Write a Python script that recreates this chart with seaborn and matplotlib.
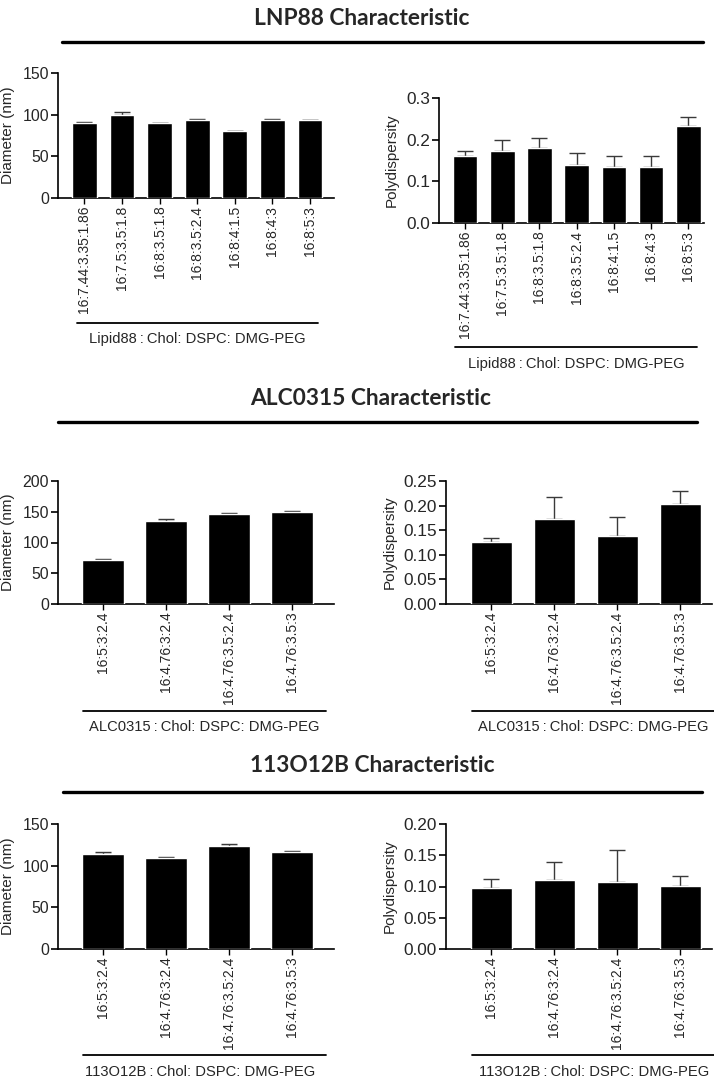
import numpy as np
import pandas as pd
import matplotlib
matplotlib.use("Agg")
import matplotlib.pyplot as plt
from matplotlib.lines import Line2D
from matplotlib.ticker import FormatStrFormatter
import seaborn as sns

# ---- data -------------------------------------------------------------
lnp88_labels = ["16:7.44:3.35:1.86", "16:7.5:3.5:1.8", "16:8:3.5:1.8",
                "16:8:3.5:2.4", "16:8:4:1.5", "16:8:4:3", "16:8:5:3"]
lnp88_diam = [90.5, 99.8, 90.0, 93.3, 80.0, 93.4, 93.4]
lnp88_diam_err = [0.8, 3.0, 0.6, 1.2, 0.6, 1.0, 0.6]
lnp88_pdi = [0.160, 0.174, 0.179, 0.140, 0.135, 0.135, 0.233]
lnp88_pdi_err = [0.012, 0.025, 0.024, 0.028, 0.025, 0.027, 0.021]

alc_labels = ["16:5:3:2.4", "16:4.76:3:2.4", "16:4.76:3.5:2.4", "16:4.76:3.5:3"]
alc_diam = [71.5, 134.5, 146.5, 150.3]
alc_diam_err = [1.0, 3.2, 0.8, 1.5]
alc_pdi = [0.126, 0.172, 0.138, 0.204]
alc_pdi_err = [0.009, 0.046, 0.038, 0.025]

o12b_labels = ["16:5:3:2.4", "16:4.76:3:2.4", "16:4.76:3.5:2.4", "16:4.76:3.5:3"]
o12b_diam = [114.2, 109.0, 124.2, 116.5]
o12b_diam_err = [1.8, 0.9, 2.0, 0.8]
o12b_pdi = [0.097, 0.111, 0.108, 0.101]
o12b_pdi_err = [0.015, 0.029, 0.050, 0.016]

section_titles = ["LNP88 Characteristic", "ALC0315 Characteristic",
                  "113O12B Characteristic"]
group_labels = ["Lipid88\u2009:\u2009Chol: DSPC: DMG-PEG",
                "ALC0315\u2009:\u2009Chol: DSPC: DMG-PEG",
                "113O12B\u2009:\u2009Chol: DSPC: DMG-PEG"]

# ---- style ------------------------------------------------------------
sns.set_theme(style="ticks")
plt.rcParams["font.family"] = ["Liberation Sans", "DejaVu Sans"]
plt.rcParams["axes.linewidth"] = 1.2

W, H = 714, 1080
fig = plt.figure(figsize=(W / 100, H / 100), dpi=100)


def fx(px):
    return px / W


def fy(py):
    return 1 - py / H


def add_axes(x0, x1, y0, y1):
    return fig.add_axes([fx(x0), fy(y1), fx(x1 - x0), (y1 - y0) / H])


def bar_panel(ax, labels, vals, errs, ymax, ystep, fmt, ylabel, xlim,
              ytick_size):
    df = pd.DataFrame({"comp": labels, "val": vals})
    sns.barplot(data=df, x="comp", y="val", color="black", saturation=1,
                width=0.66, errorbar=None, ax=ax, zorder=3)
    pos = np.arange(len(labels))
    ax.errorbar(pos, vals, yerr=[np.zeros(len(errs)), errs], fmt="none",
                ecolor="#3a3a3a", elinewidth=1.0, capsize=5.5,
                capthick=1.0, zorder=2)
    ax.set_ylim(0, ymax)
    ax.set_yticks(np.arange(0, ymax + ystep / 2, ystep))
    ax.yaxis.set_major_formatter(FormatStrFormatter(fmt))
    ax.set_xlim(*xlim)
    ax.set_xlabel("")
    ax.set_ylabel(ylabel, fontsize=11.0, labelpad=5)
    ax.tick_params(axis="x", labelrotation=90, labelsize=10.0, length=4,
                   width=1.0, pad=1.5, color="black")
    ax.tick_params(axis="y", labelsize=ytick_size, length=5, width=1.2,
                   pad=1.5, color="black")
    for s in ("top", "right"):
        ax.spines[s].set_visible(False)
    for s in ("left", "bottom"):
        ax.spines[s].set_color("black")
    ax.set_facecolor("white")


# ---- panels -----------------------------------------------------------
ax1 = add_axes(58, 334, 73, 198)
bar_panel(ax1, lnp88_labels, lnp88_diam, lnp88_diam_err, 150, 50, "%d",
          "Diameter (nm)", (-0.7, 6.64), 11.4)
ax2 = add_axes(439, 704, 98, 223)
bar_panel(ax2, lnp88_labels, lnp88_pdi, lnp88_pdi_err, 0.3, 0.1, "%.1f",
          "Polydispersity", (-0.7, 6.42), 12.4)

ax3 = add_axes(58, 334, 481, 604)
bar_panel(ax3, alc_labels, alc_diam, alc_diam_err, 200, 50, "%d",
          "Diameter (nm)", (-0.715, 3.667), 11.4)
ax4 = add_axes(446, 712, 481, 604)
bar_panel(ax4, alc_labels, alc_pdi, alc_pdi_err, 0.25, 0.05, "%.2f",
          "Polydispersity", (-0.72, 3.5), 12.4)

ax5 = add_axes(58, 334, 824, 949)
bar_panel(ax5, o12b_labels, o12b_diam, o12b_diam_err, 150, 50, "%d",
          "Diameter (nm)", (-0.715, 3.667), 11.4)
ax6 = add_axes(446, 712, 824, 949)
bar_panel(ax6, o12b_labels, o12b_pdi, o12b_pdi_err, 0.20, 0.05, "%.2f",
          "Polydispersity", (-0.72, 3.5), 12.4)

# ---- section headers with rules ----------------------------------------
headers = [(362, 25, 62, 703, 42), (371, 405, 58, 697, 422),
           (372, 772, 63, 702, 792)]
for title, (cx, base, lx0, lx1, ly) in zip(section_titles, headers):
    fig.text(fx(cx), fy(base), title, ha="center", va="baseline",
             fontsize=16.4, fontweight="bold", family=["Lato", "DejaVu Sans"])
    fig.add_artist(Line2D([fx(lx0), fx(lx1)], [fy(ly), fy(ly)],
                          color="black", lw=2.4, transform=fig.transFigure))

# ---- composition brackets under each panel -----------------------------
brackets = [
    (77, 318, 323, 197, 339, 0), (455, 697, 347, 576, 364, 0),
    (83, 326, 711, 204, 727, 1), (472, 714, 711, 593, 727, 1),
    (83, 326, 1055, 200, 1072, 2), (472, 714, 1055, 594, 1072, 2),
]
for x0, x1, ly, tx, ty, g in brackets:
    fig.add_artist(Line2D([fx(x0), fx(x1)], [fy(ly), fy(ly)],
                          color="black", lw=1.3, transform=fig.transFigure))
    fig.text(fx(tx), fy(ty), group_labels[g], ha="center", va="center",
             fontsize=10.6)

fig.savefig("out.png", dpi=100, facecolor="white")
